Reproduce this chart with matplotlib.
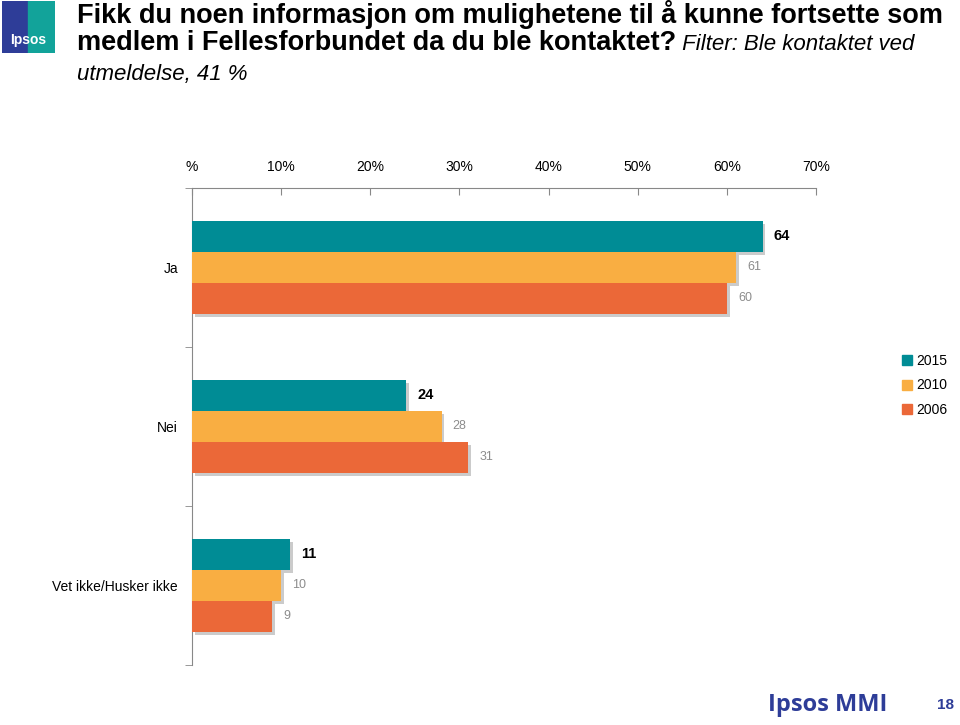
#!/usr/bin/env python3
import numpy as np
import matplotlib.pyplot as plt
import matplotlib.patheffects as pe
from matplotlib.patches import Rectangle
from matplotlib.lines import Line2D

plt.rcParams['font.family'] = ['Liberation Sans', 'DejaVu Sans']

categories = ['Ja', 'Nei', 'Vet ikke/Husker ikke']
years = ['2015', '2010', '2006']
values = {
    '2015': [64, 24, 11],
    '2010': [61, 28, 10],
    '2006': [60, 31, 9],
}
colors = ['#008C95', '#F9AE42', '#EB6838']
xticks = [0, 10, 20, 30, 40, 50, 60, 70]
xticklabels = ['%', '10%', '20%', '30%', '40%', '50%', '60%', '70%']

fig = plt.figure(figsize=(9.6, 7.25), dpi=100)
ax = fig.add_axes([0.2, 0.0828, 0.65, 0.658])

bar_h = 31 / 159
y = np.arange(len(categories))
shadow = [pe.SimplePatchShadow(offset=(2, -2), shadow_rgbFace='#999999', alpha=0.5),
          pe.Normal()]

for i, yr in enumerate(years):
    pos = y + (i - 1) * bar_h
    ax.barh(pos, values[yr], height=bar_h, color=colors[i],
            label=yr, path_effects=shadow, zorder=3)
    for p, v in zip(pos, values[yr]):
        if i == 0:
            ax.annotate(str(v), (v, p), xytext=(8, 0), textcoords='offset points',
                        va='center', ha='left', fontsize=10.5, fontweight='bold',
                        color='black')
        else:
            ax.annotate(str(v), (v, p), xytext=(8, 0), textcoords='offset points',
                        va='center', ha='left', fontsize=9, color='#8C8C8C')

ax.set_xlim(0, 70)
ax.set_ylim(2.5, -0.5)
ax.set_yticks(y)
ax.set_yticklabels(categories, fontsize=10)
ax.set_yticks([-0.5, 0.5, 1.5, 2.5], minor=True)
ax.tick_params(axis='y', which='major', length=0, pad=10)
ax.tick_params(axis='y', which='minor', length=5, color='#888888', direction='out')

ax.xaxis.tick_top()
ax.set_xticks(xticks)
ax.set_xticklabels(xticklabels, fontsize=10)
ax.tick_params(axis='x', direction='in', length=5, color='#888888', pad=10)

for s in ['right', 'bottom']:
    ax.spines[s].set_visible(False)
ax.spines['top'].set_color('#888888')
ax.spines['left'].set_color('#888888')

handles = [Line2D([], [], marker='s', linestyle='', color=c, markersize=7) for c in colors]
fig.legend(handles, years, loc='upper left', bbox_to_anchor=(0.925, 0.529),
           frameon=False, fontsize=10, handletextpad=0.1, labelspacing=0.75,
           handlelength=1.0)

# title
fig.text(0.08, 0.968, 'Fikk du noen informasjon om mulighetene til å kunne fortsette som',
         fontsize=19.5, fontweight='bold', va='baseline', ha='left')
t2 = fig.text(0.08, 0.931, 'medlem i Fellesforbundet da du ble kontaktet?',
              fontsize=19.5, fontweight='bold', va='baseline', ha='left')
ax.annotate(' Filter: Ble kontaktet ved', xy=(1, 0.931),
            xycoords=(t2, 'figure fraction'),
            fontsize=16, fontstyle='italic', va='baseline', ha='left',
            annotation_clip=False)
fig.text(0.08, 0.890, 'utmeldelse, 41 %', fontsize=16, fontstyle='italic',
         va='baseline', ha='left')

# logo
lax = fig.add_axes([0.002, 0.927, 0.055, 0.071])
lax.set_xlim(0, 1)
lax.set_ylim(0, 1)
lax.axis('off')
lax.add_patch(Rectangle((0, 0), 1, 1, color='#2E3D98'))
lax.add_patch(Rectangle((0.5, 0), 0.5, 1, color='#12A39A'))
lax.text(0.5, 0.25, 'Ipsos', color='white', fontsize=10, fontweight='bold',
         ha='center', va='center')

# footer
fig.text(0.8, 0.027, 'Ipsos MMI', color='#2E3D98', fontsize=17, fontweight='bold',
         family=['Open Sans', 'DejaVu Sans'], ha='left', va='center')
fig.text(0.985, 0.027, '18', color='#2E3D98', fontsize=11, fontweight='bold',
         ha='center', va='center')

fig.savefig('out.png', dpi=100)
